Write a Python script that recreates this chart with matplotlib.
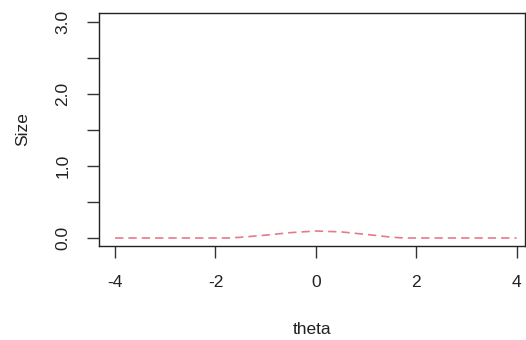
import matplotlib
matplotlib.use('Agg')
import matplotlib.pyplot as plt

theta = [-4, -3, -2, -1.75, -1.5, -1, -0.5, 0, 0.5, 1, 1.5, 1.75, 2, 3, 4]
size = [0, 0, 0, 0.0, 0.01, 0.04, 0.075, 0.097, 0.085, 0.05, 0.012, 0.0, 0, 0, 0]

y_ticks = [0, 0.5, 1, 1.5, 2, 2.5, 3]
y_labels = ['0.0', '', '1.0', '', '2.0', '', '3.0']
x_ticks = [-4, -2, 0, 2, 4]

plt.rcParams['font.family'] = ['Liberation Sans', 'DejaVu Sans']

fig = plt.figure(figsize=(5.26, 3.40), dpi=100)
ax = fig.add_axes([99 / 526, 94 / 340, 426 / 526, 233 / 340])

ax.plot(theta, size, color='#E57A8C', lw=1.2, dashes=(5, 3))

ax.set_xlim(-4.32, 4.166)
ax.set_ylim(-0.111, 3.125)
ax.set_xticks(x_ticks)
ax.set_xticklabels([str(v) for v in x_ticks])
ax.set_yticks(y_ticks)
ax.set_yticklabels(y_labels, rotation=90, va='center')
ax.tick_params(length=8.6, width=1, color='#333333', labelsize=12.5, pad=12, labelcolor='#222222')
ax.tick_params(axis='x', pad=12.5)

for s in ax.spines.values():
    s.set_color('#222222')
    s.set_linewidth(1)

ax.set_xlabel('theta', fontsize=12.5, color='#222222', labelpad=23)
ax.set_ylabel('Size', fontsize=12.5, color='#222222', labelpad=18.5)

fig.savefig('out.png', dpi=100)
plt.close(fig)
